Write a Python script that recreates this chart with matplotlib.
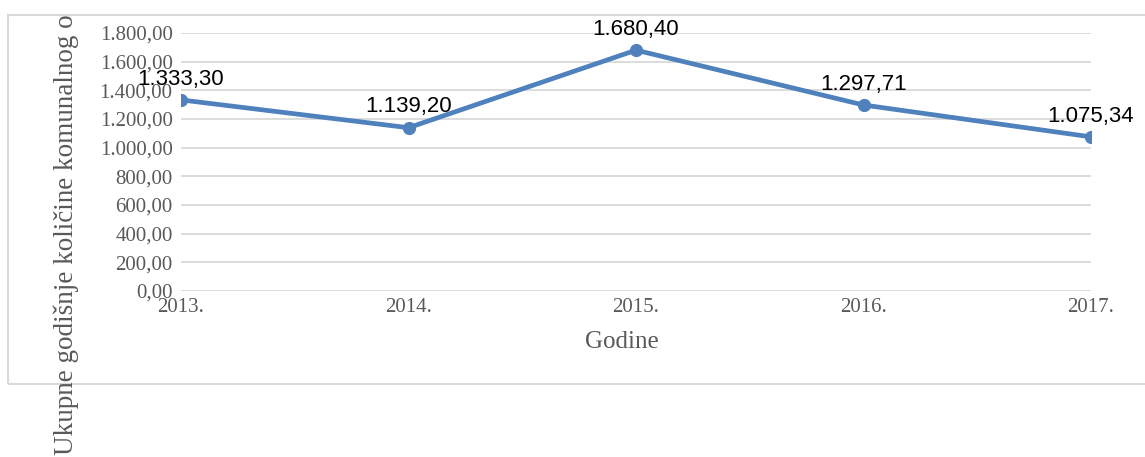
import matplotlib
matplotlib.use("Agg")
import matplotlib.pyplot as plt
from matplotlib.patches import Rectangle
from matplotlib.ticker import FuncFormatter, MultipleLocator

# data
years = ["2013.", "2014.", "2015.", "2016.", "2017."]
values = [1333.30, 1139.20, 1680.40, 1297.71, 1075.34]
x_title = "Godine"
y_title = "Ukupne godišnje količine komunalnog otpada"


def eu(v):
    # 1,333.30 -> 1.333,30
    s = f"{v:,.2f}"
    return s.replace(",", "X").replace(".", ",").replace("X", ".")


grey = "#595959"
serif = "Liberation Serif"

fig = plt.figure(figsize=(11.45, 4.57), dpi=100)
W, H = 1145, 457

# chart area border
fig.add_artist(Rectangle((8 / W, 1 - 384 / H), 1.2, (384 - 15) / H,
                         transform=fig.transFigure, fill=False,
                         edgecolor="#d9d9d9", linewidth=1.5))

ax = fig.add_axes([181 / W, 1 - 291 / H, (1091 - 181) / W, (291 - 33) / H])
xs = list(range(len(years)))
ax.plot(xs, values, color="#4f81bd", linewidth=3.4, marker="o",
        markersize=8.5, solid_capstyle="round", zorder=3)

for x, v in zip(xs, values):
    ax.annotate(eu(v), (x, v), xytext=(0, 11), textcoords="offset points",
                ha="center", va="baseline", fontsize=16,
                family="Liberation Sans", color="black", zorder=4)

ax.set_xlim(0, len(years) - 1)
ax.set_ylim(0, 1800)
ax.yaxis.set_major_locator(MultipleLocator(200))
ax.yaxis.set_major_formatter(FuncFormatter(lambda v, p: eu(v)))
ax.set_xticks(xs)
ax.set_xticklabels(years)
ax.grid(axis="y", color="#d9d9d9", linewidth=1.3)
ax.set_axisbelow(True)
for s in ax.spines.values():
    s.set_visible(False)
ax.tick_params(length=0, labelcolor=grey, labelsize=15)
ax.tick_params(axis="y", pad=6)
ax.tick_params(axis="x", pad=5)
for lab in ax.get_xticklabels() + ax.get_yticklabels():
    lab.set_family(serif)

fig.text(622 / W, 1 - 342 / H, x_title, ha="center", va="center",
         fontsize=18, family=serif, color=grey)

yl = fig.text(66 / W, 1 - 455 / H, y_title, rotation=90, ha="center",
              va="bottom", fontsize=19.5, family=serif, color=grey)
clip = Rectangle((0, 0), 1, 1 - 15 / H, transform=fig.transFigure)
yl.set_clip_path(clip)

fig.savefig("out.png", dpi=100)
